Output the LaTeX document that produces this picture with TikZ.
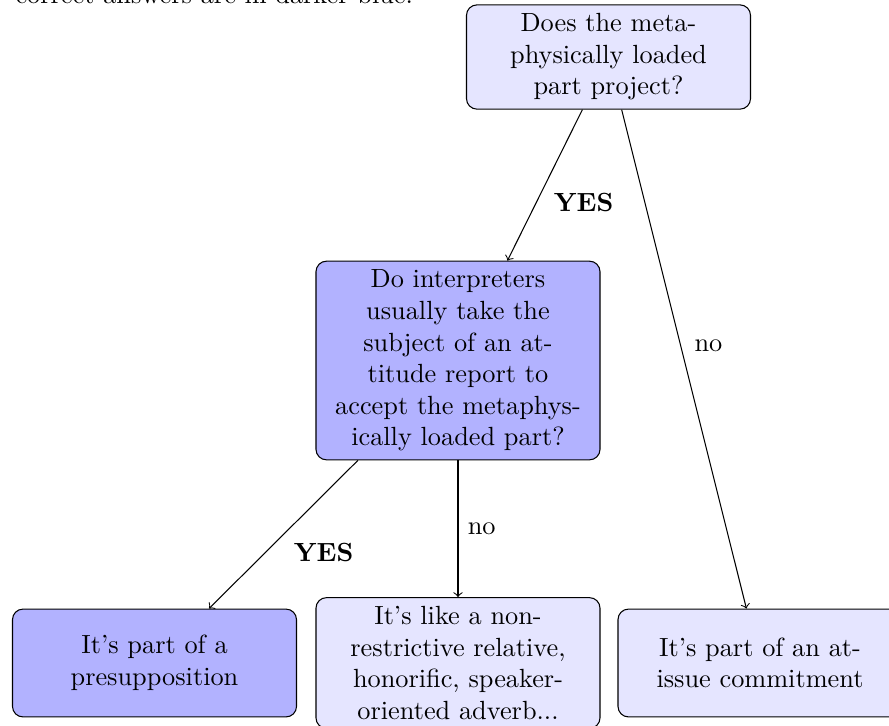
\documentclass[tikz,border=0pt]{standalone}
\usetikzlibrary{arrows}
\begin{document}
\begin{tikzpicture}[x=0.3802pt, y=-0.3802pt,
  qbox/.style={draw, rounded corners, fill=blue!10, text width=3.5cm, align=center,
               inner xsep=4.2pt, inner ysep=3.33pt},
  darkbox/.style={qbox, fill=blue!30},
  leaf/.style={minimum height=41pt},
  lab/.style={anchor=base west, inner sep=0pt},
  conn/.style={->}]
\useasboundingbox (0,0) rectangle (889,725);
\clip (0,0) rectangle (889,725);
\node[lab] (caption) at (15,3) {correct answers are in darker blue.};
\node[qbox] (top) at (608.5,57) {Does the metaphysically loaded part project?};
\node[darkbox] (mid) at (458,360.5) {Do interpreters usually take the subject of an attitude report to accept the metaphysically loaded part?};
\node[darkbox, leaf] (presup) at (154.5,663) {It's part of a presupposition};
\node[qbox, leaf] (nrr) at (458,663) {It's like a non-restrictive relative, honorific, speaker-oriented adverb...};
\node[qbox, leaf] (atissue) at (760,663) {It's part of an at-issue commitment};
\draw[conn] (top) -- (mid);
\draw[conn] (top) -- (atissue);
\draw[conn] (mid) -- (presup);
\draw[conn] (mid) -- (nrr);
\node[lab] (yes1) at (553.3,211.7) {\textbf{YES}};
\node[lab] (no1) at (694,351) {no};
\node[lab] (yes2) at (293.3,561.7) {\textbf{YES}};
\node[lab] (no2) at (467.3,534.3) {no};
\end{tikzpicture}
\end{document}
